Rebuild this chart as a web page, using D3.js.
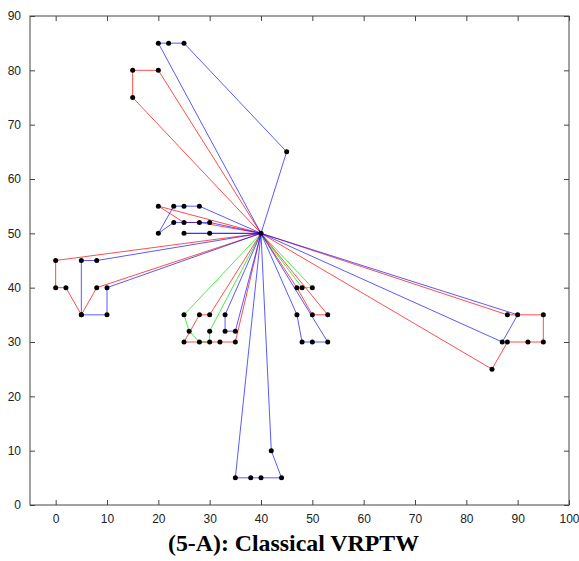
<!DOCTYPE html>
<html>
<head>
<meta charset="utf-8">
<script src="https://cdn.jsdelivr.net/npm/d3@7"></script>
<style>
  html, body { margin: 0; padding: 0; background: #fff; }
  svg { display: block; }
</style>
</head>
<body>
<svg id="chart" width="579" height="561"></svg>
<script>
// Depot location shared by every vehicle route
const depot = [40, 50];

// Customer sequences per vehicle, grouped by drawing colour
const redRoutes = [
  [[20, 80], [15, 80], [15, 75]],
  [[28, 52], [25, 52], [20, 55]],
  [[0, 45], [0, 40], [2, 40], [5, 35], [8, 40]],
  [[30, 35], [28, 35], [25, 30], [32, 30], [35, 30]],
  [[47, 40], [50, 35], [53, 35]],
  [[88, 35], [95, 35], [95, 30], [92, 30], [88, 30], [85, 25]]
];

const blueRoutes = [
  [[45, 65], [25, 85], [22, 85], [20, 85]],
  [[28, 55], [25, 55], [23, 55], [20, 50], [23, 52], [30, 52]],
  [[30, 50], [25, 50]],
  [[8, 45], [5, 45], [5, 35], [10, 35], [10, 40]],
  [[33, 35], [33, 32], [35, 32]],
  [[35, 5], [38, 5], [40, 5], [44, 5], [42, 10]],
  [[47, 35], [48, 30], [50, 30], [53, 30]],
  [[90, 35], [87, 30]]
];

const greenRoutes = [
  [[25, 35], [26, 32], [28, 30], [30, 30], [30, 32]],
  [[48, 40], [50, 40]]
];

// Axis tick values
const xTicks = [0, 10, 20, 30, 40, 50, 60, 70, 80, 90, 100];
const yTicks = [0, 10, 20, 30, 40, 50, 60, 70, 80, 90];

const chartTitle = "(5-A): Classical VRPTW";

const svg = d3.select("#chart");
const plot = { left: 30, right: 569, top: 16, bottom: 505 };

const x = d3.scaleLinear().domain([-5, 100]).range([plot.left, plot.right]);
const y = d3.scaleLinear().domain([0, 90]).range([plot.bottom, plot.top]);

const tickLen = 5;
const labelFont = "'Liberation Sans', Arial, sans-serif";

// Axes: ticks point inward, frame drawn on all four sides
const axisBottom = d3.axisBottom(x).tickValues(xTicks).tickSizeInner(-tickLen).tickSizeOuter(0).tickPadding(9);
const axisTop = d3.axisTop(x).tickValues(xTicks).tickSizeInner(-tickLen).tickSizeOuter(0).tickFormat("");
const axisLeft = d3.axisLeft(y).tickValues(yTicks).tickSizeInner(-tickLen).tickSizeOuter(0).tickPadding(9);
const axisRight = d3.axisRight(y).tickValues(yTicks).tickSizeInner(-tickLen).tickSizeOuter(0).tickFormat("");

function styleAxis(g) {
  g.select(".domain").remove();
  g.selectAll(".tick line").attr("stroke", "#444").attr("stroke-width", 1);
  g.selectAll(".tick text")
    .attr("fill", "#222")
    .style("font-family", labelFont)
    .style("font-size", "12px");
}

svg.append("g").attr("transform", `translate(0,${plot.bottom})`).call(axisBottom).call(styleAxis);
svg.append("g").attr("transform", `translate(0,${plot.top})`).call(axisTop).call(styleAxis);
svg.append("g").attr("transform", `translate(${plot.left},0)`).call(axisLeft).call(styleAxis);
svg.append("g").attr("transform", `translate(${plot.right},0)`).call(axisRight).call(styleAxis);

// Route lines: each tour starts and ends at the depot
const line = d3.line().x(d => x(d[0])).y(d => y(d[1]));
const routeLayer = svg.append("g").attr("fill", "none");

function drawRoutes(routes, color, opacity) {
  routeLayer.selectAll(null)
    .data(routes)
    .enter()
    .append("path")
    .attr("d", r => line([depot, ...r, depot]))
    .attr("stroke", color)
    .attr("stroke-opacity", opacity)
    .attr("stroke-width", 1);
}

drawRoutes(greenRoutes, "#00e000", 0.7);
drawRoutes(redRoutes, "#ff0000", 0.7);
drawRoutes(blueRoutes, "#0000ff", 0.65);

// Customer and depot points
const allPoints = [depot, ...redRoutes.flat(), ...blueRoutes.flat(), ...greenRoutes.flat()];
svg.append("g")
  .selectAll("circle")
  .data(allPoints)
  .enter()
  .append("circle")
  .attr("cx", d => x(d[0]))
  .attr("cy", d => y(d[1]))
  .attr("r", 2.5)
  .attr("fill", "#000");

// Plot frame
svg.append("rect")
  .attr("x", plot.left)
  .attr("y", plot.top)
  .attr("width", plot.right - plot.left)
  .attr("height", plot.bottom - plot.top)
  .attr("fill", "none")
  .attr("stroke", "#444")
  .attr("stroke-width", 1);

// Caption below the axes
svg.append("text")
  .attr("x", 293.5)
  .attr("y", 551)
  .attr("text-anchor", "middle")
  .attr("textLength", 251)
  .attr("lengthAdjust", "spacingAndGlyphs")
  .style("font-family", "'Liberation Serif', 'Times New Roman', serif")
  .style("font-weight", "bold")
  .style("font-size", "24px")
  .attr("fill", "#000")
  .text(chartTitle);
</script>
</body>
</html>
